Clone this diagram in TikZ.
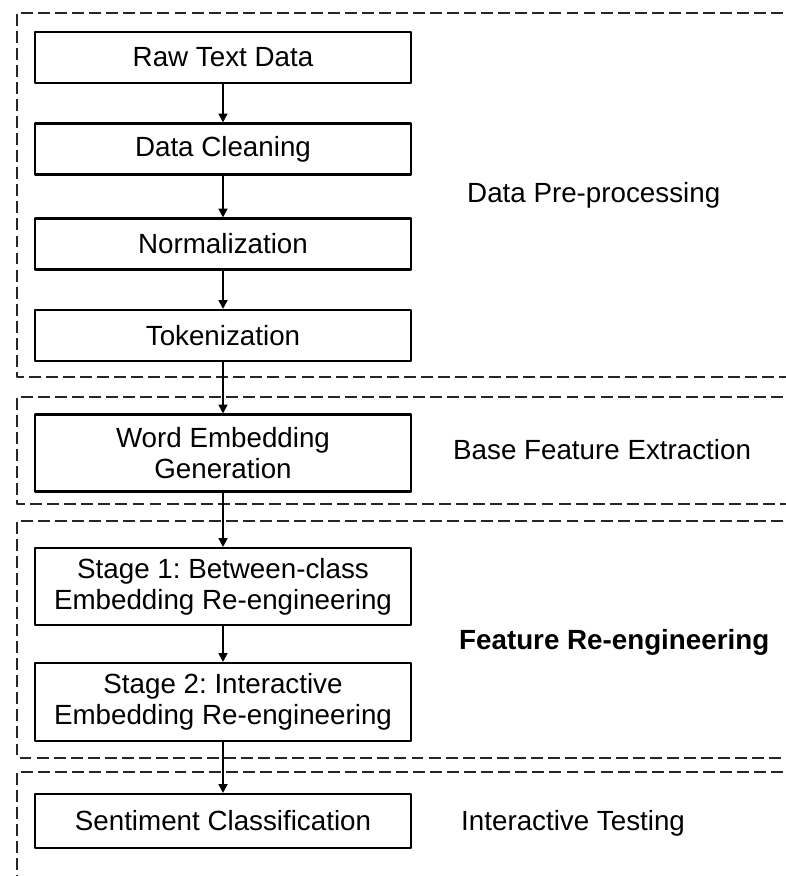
\documentclass[tikz,border=0pt]{standalone}
\usepackage{fontspec}
\setmainfont{Liberation Sans}
\usetikzlibrary{arrows.meta}
\frenchspacing
\tikzset{
	stepbox/.style={draw,line width=1.2pt,minimum width=7.52cm,minimum height=1.02cm,align=center,inner sep=2pt},
	region/.style={line width=1.1pt,dash pattern=on 6.8pt off 2.9pt,black!85},
	phase/.style={anchor=west}
}
\begin{document}
\begin{tikzpicture}[>={Triangle[length=5pt,width=5pt]},line join=round,x=0.02cm,y=-0.02cm,
	font=\fontsize{15.8pt}{17.6pt}\selectfont]
			\useasboundingbox (0,0) rectangle (786,876);
			\clip (0,0) rectangle (786,876);
			% dashed stage regions, open on the right
			\foreach \t/\b in {13/377,397/504,521/758}
			\draw[region] (800,\t)--(17,\t)--(17,\b)--(800,\b);
			\draw[region] (800,772)--(17,772)--(17,900);
			% process steps
			\foreach \n/\y/\h/\s in {raw/57.5/1.02/Raw Text Data,clean/149/1.02/Data Cleaning,
				norm/244/1.02/Normalization,tok/335.5/1.02/Tokenization,
				emb/453/1.54/Word Embedding\\Generation,
				st1/586.5/1.54/Stage 1: Between-class\\Embedding Re-engineering,
				st2/702/1.56/Stage 2: Interactive\\Embedding Re-engineering,
				sent/821/1.08/Sentiment Classification}
			\node[stepbox,minimum height=\h cm] (\n) at (223,\y) {\s};
			\foreach \a/\b in {raw/clean,clean/norm,norm/tok,tok/emb,emb/st1,st1/st2,st2/sent}
			\draw[->,line width=1.1pt] (\a)--(\b);
			% phase names
			\node[phase] (pre) at (461,195) {Data Pre-processing};
			\node[phase] (base) at (447,450) {Base Feature Extraction};
			\node[phase,font=\fontsize{15.8pt}{17.6pt}\selectfont\bfseries] (reeng) at (453,642) {Feature Re-engineering};
			\node[phase] (test) at (455,823) {Interactive Testing};
	\end{tikzpicture}
\end{document}
